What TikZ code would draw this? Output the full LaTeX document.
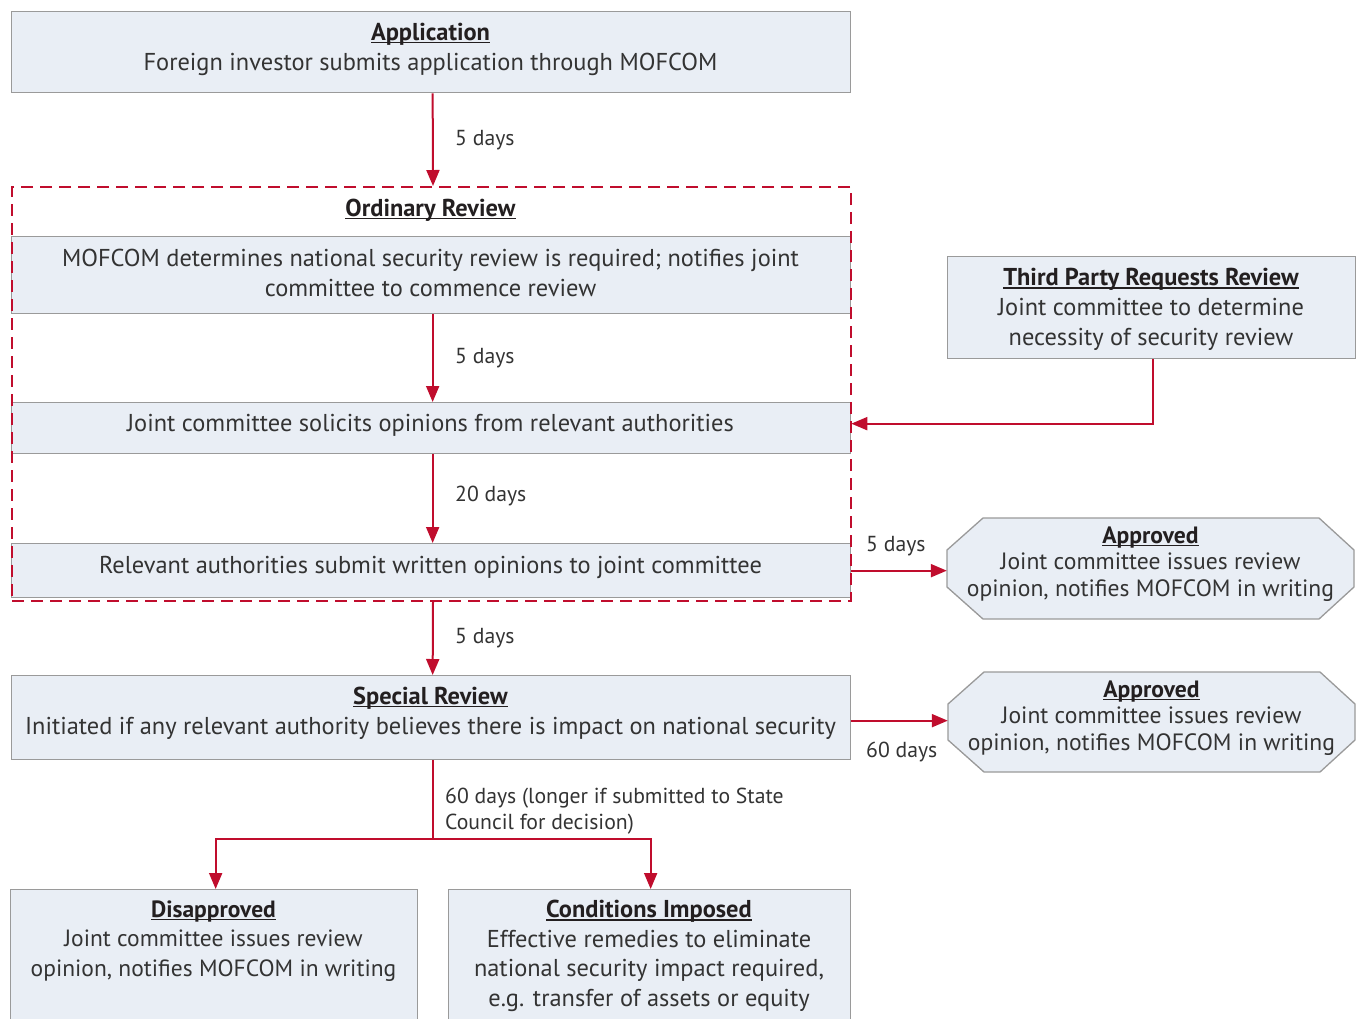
\documentclass[tikz,border=0pt]{standalone}
\usepackage{fontspec}
\setmainfont{PT Sans}
\usetikzlibrary{arrows.meta,calc}
\definecolor{boxfill}{HTML}{E9EEF5}
\definecolor{boxline}{HTML}{9A9A9A}
\definecolor{myred}{HTML}{C00D2D}
\definecolor{txtc}{HTML}{333333}
\definecolor{ttlc}{HTML}{231F20}
\newcommand{\ttl}[1]{{\bfseries\color{ttlc}\setbox0=\hbox{#1}\rlap{\rule[-3pt]{\wd0}{1.4pt}}\box0}}
\tikzset{
  box/.style={draw=boxline, fill=boxfill, line width=1.3pt, inner sep=0pt, anchor=north west},
  txt/.style={font=\fontsize{24.4}{30}\selectfont, text=txtc, align=center, inner sep=0pt},
  txtb/.style={font=\fontsize{23.5}{29.5}\selectfont, text=txtc, align=center, inner sep=0pt},
  octtxt/.style={font=\fontsize{23.6}{26.5}\selectfont, text=txtc, align=center, inner sep=0pt},
  lbl/.style={font=\fontsize{21.7}{26}\selectfont, text=txtc, anchor=west, align=left, inner sep=0pt},
  arr/.style={draw=myred, line width=2pt, -{Triangle[length=16pt,width=13pt]}},
  redline/.style={draw=myred, line width=2pt},
  dashbox/.style={draw=myred, line width=2pt, dash pattern=on 12pt off 7pt, inner sep=0pt, anchor=north west},
  oct/.style={draw=boxline, fill=boxfill, line width=1.3pt},
}
\begin{document}
\begin{tikzpicture}[x=1pt,y=-1pt]
\useasboundingbox (0,0) rectangle (1357,1018);
% Application
\node[box, minimum width=839pt, minimum height=81pt] (app) at (11,11) {};
\node[txt] (appT) at (430.5,49) {\ttl{Application}\\Foreign investor submits application through MOFCOM};
% Ordinary review inner boxes
\node[box, minimum width=839pt, minimum height=77pt] (b1) at (11,236) {};
\node[txt] (b1T) at (430.5,273) {MOFCOM determines national security review is required; notifies joint\\committee to commence review};
\node[box, minimum width=839pt, minimum height=51pt] (b2) at (11,402) {};
\node[txt] (b2T) at (430.5,425) {Joint committee solicits opinions from relevant authorities};
\node[box, minimum width=839pt, minimum height=54pt] (b3) at (11,543) {};
\node[txt] (b3T) at (430.5,567) {Relevant authorities submit written opinions to joint committee};
% dashed ordinary review frame
\node[dashbox, minimum width=839pt, minimum height=414pt] (ord) at (11,186) {};
\node[txt] (ordT) at (430.5,210) {\ttl{Ordinary Review}};
% Special review
\node[box, minimum width=839pt, minimum height=84pt] (sp) at (11,675) {};
\node[txt] (spT) at (430.5,713) {\ttl{Special Review}\\Initiated if any relevant authority believes there is impact on national security};
% Third party
\node[box, minimum width=408pt, minimum height=102pt] (tp) at (947,256) {};
\node[txt] (tpT) at (1151,309.5) {\ttl{Third Party Requests Review}\\Joint committee to determine\\necessity of security review};
% Approved octagons
\path[oct] (983,518) -- (1319,518) -- (1354,550) -- (1354,587) -- (1319,619) -- (983,619) -- (947,587) -- (947,550) -- cycle;
\node[inner sep=0pt, minimum width=407pt, minimum height=101pt] (ap1) at (1150.5,568.5) {};
\node[octtxt] (ap1T) at (1150.5,564) {\ttl{Approved}\\Joint committee issues review\\opinion, notifies MOFCOM in writing};
\path[oct] (984,672) -- (1320,672) -- (1355,704) -- (1355,740) -- (1320,772) -- (984,772) -- (948,740) -- (948,704) -- cycle;
\node[inner sep=0pt, minimum width=407pt, minimum height=100pt] (ap2) at (1151.5,722) {};
\node[octtxt] (ap2T) at (1151.5,718) {\ttl{Approved}\\Joint committee issues review\\opinion, notifies MOFCOM in writing};
% Bottom boxes
\node[box, minimum width=407pt, minimum height=140pt] (dis) at (10,889) {};
\node[txtb] (disT) at (213.5,941) {\ttl{Disapproved}\\Joint committee issues review\\opinion, notifies MOFCOM in writing};
\node[box, minimum width=402pt, minimum height=140pt] (con) at (448,889) {};
\node[txtb, font=\fontsize{24.4}{29.5}\selectfont] (conT) at (649,956) {\ttl{Conditions Imposed}\\Effective remedies to eliminate\\national security impact required,\\e.g. transfer of assets or equity};
% Connectors
\draw[arr] ([xshift=1.5pt]app.south) -- ([xshift=1.5pt]ord.north);
\node[lbl] (l1) at (455,140) {5 days};
\draw[arr] ([xshift=1.5pt]b1.south) -- ([xshift=1.5pt]b2.north);
\node[lbl] (l2) at (455,358) {5 days};
\draw[arr] ([xshift=1.5pt]b2.south) -- ([xshift=1.5pt]b3.north);
\node[lbl] (l3) at (455,496) {20 days};
\draw[arr] (b3.east) -- (b3.east -| ap1.west);
\node[lbl] (l4) at (866,546) {5 days};
\draw[arr] ([xshift=1.5pt]tp.south) |- ([yshift=4.5pt]b2.east);
\draw[arr] ([xshift=1.5pt]ord.south) -- ([xshift=1.5pt]sp.north);
\node[lbl] (l5) at (455,638) {5 days};
\draw[arr] ([yshift=-3pt]sp.east) -- ([yshift=-3pt]sp.east -| ap2.west);
\node[lbl] (l6) at (866,752) {60 days};
\coordinate (sj) at ([xshift=1.5pt,yshift=-79pt]sp.south);
\draw[redline] ([xshift=1.5pt]sp.south) -- (sj);
\draw[arr] (sj) -| ([xshift=1.5pt]dis.north);
\draw[arr] (sj) -| ([xshift=1pt]con.north);
\node[lbl] (l7) at (445,811) {60 days (longer if submitted to State\\Council for decision)};
\end{tikzpicture}
\end{document}
